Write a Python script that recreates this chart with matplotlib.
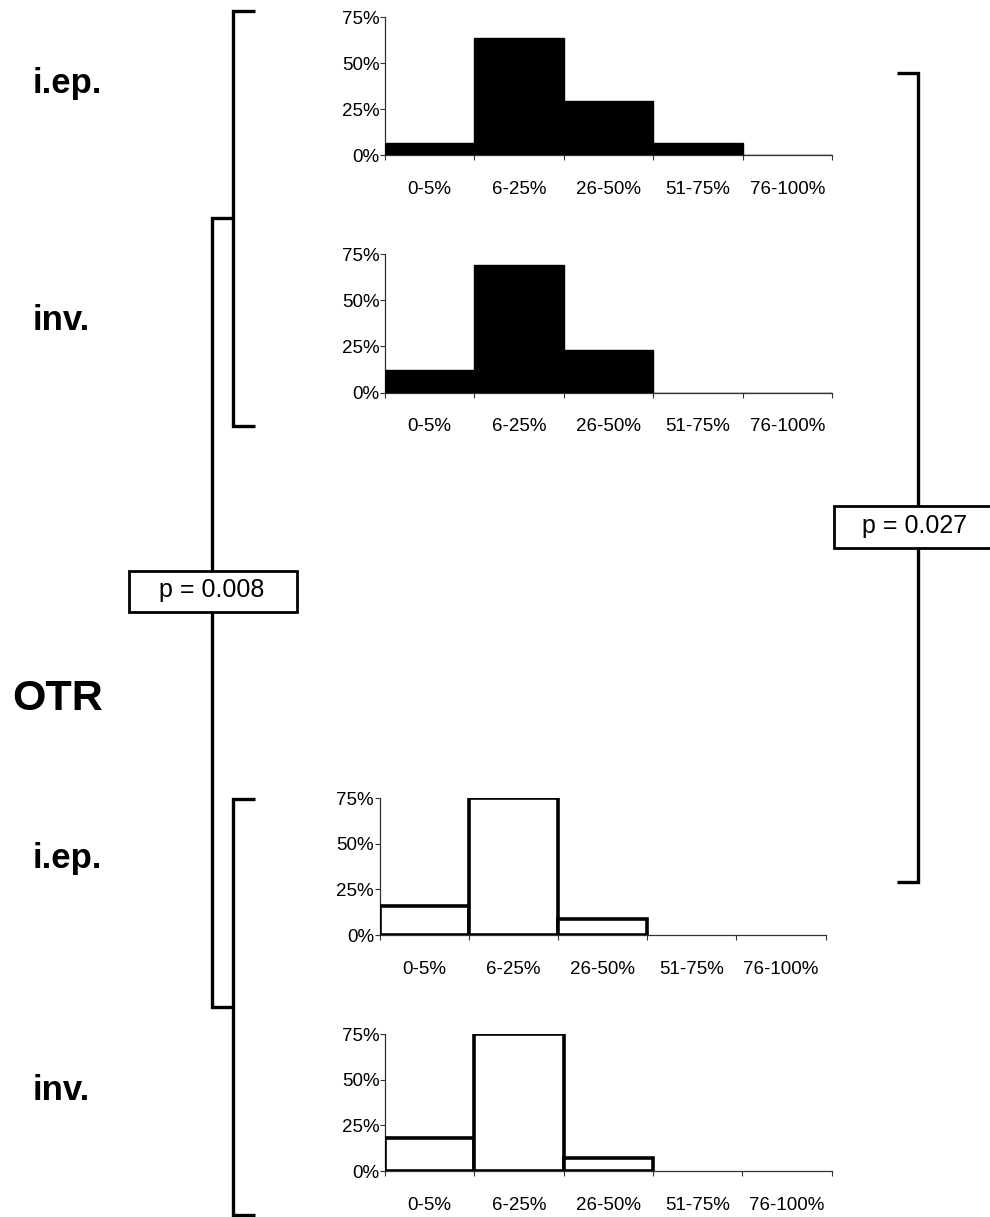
import matplotlib
matplotlib.use("Agg")
import matplotlib.pyplot as plt
from matplotlib.patches import Rectangle

plt.rcParams['font.family'] = ['Liberation Sans', 'DejaVu Sans']

categories = ["0-5%", "6-25%", "26-50%", "51-75%", "76-100%"]
yticks = [0, 25, 50, 75]
ytick_labels = ["0%", "25%", "50%", "75%"]

iep_top = [6.5, 63.5, 29.5, 6.5, 0]
inv_top = [12.5, 69, 23, 0, 0]
iep_otr = [16, 75, 9, 0, 0]
inv_otr = [18, 75, 7, 0, 0]

row_labels = ["i.ep.", "inv.", "i.ep.", "inv."]
group_label = "OTR"
p_left = "p = 0.008"
p_right = "p = 0.027"

W, H = 990, 1217
fig = plt.figure(figsize=(W / 100, H / 100), dpi=100)

# overlay in pixel coordinates
ov = fig.add_axes([0, 0, 1, 1])
ov.set_xlim(0, W)
ov.set_ylim(H, 0)
ov.axis('off')

def add_panel(left, right, top, bottom, values, filled):
    ax = fig.add_axes([left / W, 1 - bottom / H, (right - left) / W, (bottom - top) / H])
    x = list(range(len(categories)))
    if filled:
        ax.bar(x, values, width=1.0, color='black', edgecolor='black', linewidth=1.0, zorder=3)
    else:
        idx = [i for i, v in enumerate(values) if v > 0]
        ax.bar([x[i] for i in idx], [values[i] for i in idx], width=1.0, color='white',
               edgecolor='black', linewidth=2.6, zorder=3)
    ax.set_xlim(-0.5, len(categories) - 0.5)
    ax.set_ylim(0, 75)
    for s in ['top', 'right']:
        ax.spines[s].set_visible(False)
    for s in ['left', 'bottom']:
        ax.spines[s].set_color('#333333')
        ax.spines[s].set_linewidth(0.9)
    ax.set_yticks(yticks)
    ax.set_yticklabels(ytick_labels, fontsize=13.5)
    ax.tick_params(axis='y', direction='out', length=3.6, width=0.8, color='#333333', pad=0.3)
    ax.set_xticks([i - 0.5 for i in range(len(categories) + 1)])
    ax.set_xticklabels([])
    ax.tick_params(axis='x', which='major', direction='out', length=3.6, width=0.8, color='#333333')
    ax.set_xticks(x, minor=True)
    ax.set_xticklabels(categories, minor=True, fontsize=13.5)
    ax.tick_params(axis='x', which='minor', length=0, pad=18.5)
    ax.set_facecolor('none')
    return ax

add_panel(385, 832, 17.3, 155, iep_top, True)
add_panel(385, 832, 254, 392.7, inv_top, True)
add_panel(379.5, 825.7, 798.3, 935, iep_otr, False)
add_panel(385, 831.7, 1034.3, 1171, inv_otr, False)

lw = 2.4
kw = dict(color='black', linewidth=lw, solid_capstyle='butt', solid_joinstyle='miter')

# top-left bracket
ov.plot([255, 233, 233, 255], [11, 11, 426, 426], **kw)
# bottom-left bracket
ov.plot([255, 233, 233, 255], [799, 799, 1215, 1215], **kw)
# connector between the two brackets
ov.plot([233, 212, 212, 233], [218, 218, 1006.5, 1006.5], **kw)
# right bracket
ov.plot([897, 918, 918, 897], [72.7, 72.7, 882, 882], **kw)

# p-value boxes
ov.add_patch(Rectangle((128.5, 571), 168, 41, facecolor='white', edgecolor='black',
                       linewidth=2.0, zorder=5))
ov.text(212, 590, p_left, ha='center', va='center', fontsize=18, zorder=6)
ov.add_patch(Rectangle((834, 506), 170, 41.5, facecolor='white', edgecolor='black',
                       linewidth=2.0, zorder=5, clip_on=False))
ov.text(915, 525.5, p_right, ha='center', va='center', fontsize=18, zorder=6)

# row labels
label_y = [93, 330, 868, 1100]
for lab, yb in zip(row_labels, label_y):
    ov.text(33, yb, lab, ha='left', va='baseline', fontsize=25, fontweight='bold')
ov.text(12, 710.5, group_label, ha='left', va='baseline', fontsize=31, fontweight='bold')

fig.savefig("out.png", dpi=100)
